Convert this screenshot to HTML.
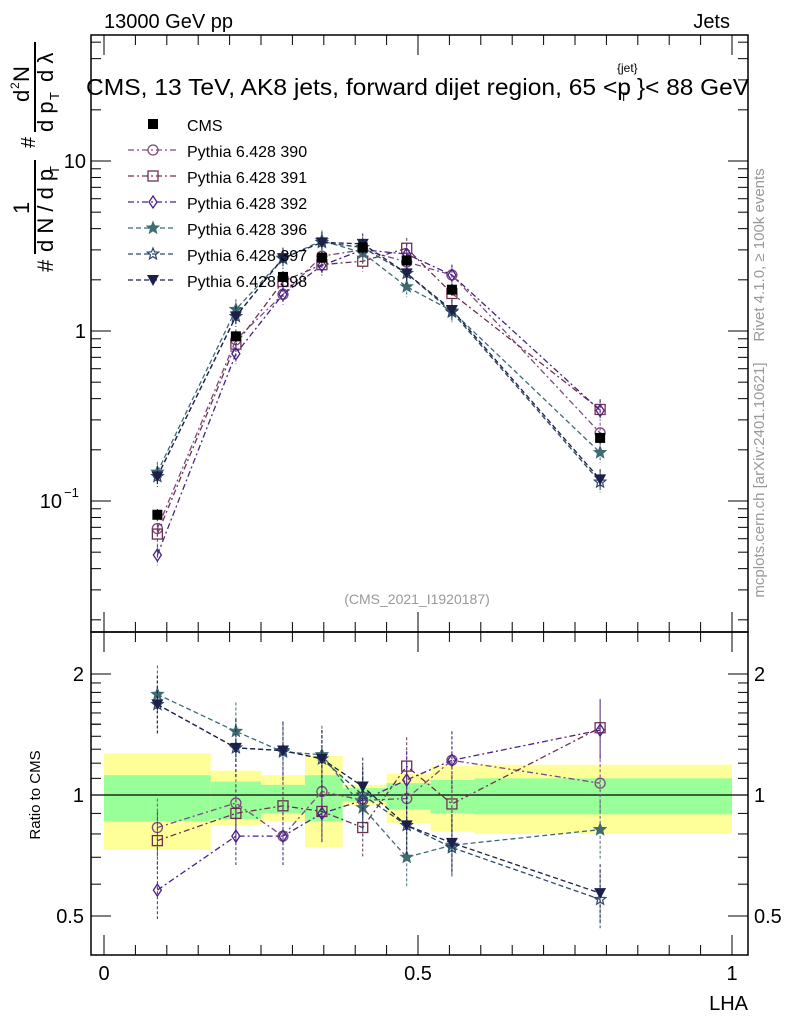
<!DOCTYPE html>
<html><head><meta charset="utf-8"><style>
body{margin:0;background:#fff;}
svg{display:block;font-family:"Liberation Sans",sans-serif;}
</style></head><body>
<svg id="c" width="786" height="1024" viewBox="0 0 786 1024" xmlns="http://www.w3.org/2000/svg"></svg>
<script>
const xs=[0.085,0.21,0.285,0.347,0.412,0.482,0.554,0.79];
const cms=[0.083,0.93,2.08,2.7,3.1,2.6,1.75,0.235];
const r390=[0.83,0.955,0.79,1.02,0.97,0.98,1.22,1.07];
const r391=[0.77,0.90,0.94,0.91,0.83,1.18,0.95,1.47];
const r392=[0.58,0.79,0.79,0.90,0.97,1.09,1.22,1.45];
const r396=[1.78,1.44,1.28,1.26,0.93,0.70,0.75,0.82];
const r397=[1.68,1.31,1.29,1.23,1.0,0.84,0.74,0.55];
const r398=[1.68,1.31,1.29,1.23,1.05,0.84,0.76,0.57];
const binEdges=[0,0.17,0.25,0.32,0.38,0.45,0.52,0.59,1.0];
const yelUp=[1.27,1.15,1.12,1.25,1.06,1.13,1.18,1.19];
const yelLo=[0.73,0.84,0.86,0.74,0.94,0.85,0.81,0.80];
const grnUp=[1.12,1.08,1.06,1.12,1.04,1.07,1.09,1.10];
const grnLo=[0.86,0.87,0.90,0.86,0.965,0.92,0.90,0.895];
const NS="http://www.w3.org/2000/svg",S=document.getElementById('c');
const X=v=>104+628*v, Y=v=>331-170*Math.log10(v), R=v=>795-121*Math.log2(v);
function el(t,a,p){const e=document.createElementNS(NS,t);for(const k in a)e.setAttribute(k,a[k]);(p||S).appendChild(e);return e;}
function tx(x,y,s,sz,a,p){const e=el('text',Object.assign({x:x,y:y,'font-size':sz},a||{}),p);e.textContent=s;return e;}
for(let i=0;i<8;i++){
 const b=el('rect',{x:X(binEdges[i]),y:R(yelUp[i]),width:X(binEdges[i+1])-X(binEdges[i]),height:R(yelLo[i])-R(yelUp[i]),fill:'#ffff99'});
 
 const g=el('rect',{x:X(binEdges[i]),y:R(grnUp[i]),width:X(binEdges[i+1])-X(binEdges[i]),height:R(grnLo[i])-R(grnUp[i]),fill:'#99ff99'});
 
}
el('line',{x1:91,x2:748,y1:795,y2:795,stroke:'#000','stroke-width':1.2});
const f1=el('rect',{x:91,y:35,width:657,height:597,fill:'none',stroke:'#000','stroke-width':1.5});

const f2=el('rect',{x:91,y:632,width:657,height:323,fill:'none',stroke:'#000','stroke-width':1.5});

for(let k=0;k<=20;k++){const v=k/20;const big=k%10==0;const L=big?20:10;
 [[35,1],[632,-1],[632,1],[955,-1]].forEach(([y,d])=>el('line',{x1:X(v),x2:X(v),y1:y,y2:y+d*L,stroke:'#000'}));}
[['0',0],['0.5',0.5],['1',1]].forEach(([s,v])=>{const t=tx(X(v),980,s,20,{'text-anchor':'middle'});});
for(let d=-2;d<=1;d++)for(let m=1;m<10;m++){const v=m*Math.pow(10,d);const y=Y(v);if(y<35||y>632)continue;const L=m==1?20:10;
 el('line',{x1:91,x2:91+L,y1:y,y2:y,stroke:'#000'});el('line',{x1:748,x2:748-L,y1:y,y2:y,stroke:'#000'});}
tx(86,168,'10',20,{'text-anchor':'end'});tx(86,338,'1',20,{'text-anchor':'end'});
tx(62,508,'10',20,{'text-anchor':'end'});tx(64,497,'−1',13,{});
[0.5,0.6,0.7,0.8,0.9,1,1.5,2].forEach(v=>{const y=R(v);const L=(v==0.5||v==1||v==2)?20:10;
 el('line',{x1:91,x2:91+L,y1:y,y2:y,stroke:'#000'});el('line',{x1:748,x2:748-L,y1:y,y2:y,stroke:'#000'});});
for(let k=1;k<10;k++){const y=R(1+k/10);el('line',{x1:91,x2:101,y1:y,y2:y,stroke:'#000'});el('line',{x1:748,x2:738,y1:y,y2:y,stroke:'#000'});}
[['2',2],['1',1],['0.5',0.5]].forEach(([s,v])=>{tx(84,R(v)+7,s,20,{'text-anchor':'end'});tx(754,R(v)+7,s,20,{});});
tx(104,28,'13000 GeV pp',20,{});
tx(730,28,'Jets',20,{'text-anchor':'end'});
tx(86,95,'CMS, 13 TeV, AK8 jets, forward dijet region, 65 <p',23,{textLength:545,lengthAdjust:'spacingAndGlyphs'});
tx(620,101,'T',12,{});tx(617,72,'{jet}',12,{});
tx(637,95,'}< 88 GeV',23,{textLength:112,lengthAdjust:'spacingAndGlyphs'});
tx(417,604,'(CMS_2021_I1920187)',14,{'text-anchor':'middle',fill:'#999'});
tx(748,1010,'LHA',20,{'text-anchor':'end',});
tx(0,0,'Ratio to CMS',15,{transform:'translate(40,795) rotate(-90)','text-anchor':'middle',});
tx(0,0,'Rivet 4.1.0, ≥ 100k events',15,{transform:'translate(764,255) rotate(-90)','text-anchor':'middle',fill:'#999'});
tx(0,0,'mcplots.cern.ch [arXiv:2401.10621]',15,{transform:'translate(764,480) rotate(-90)','text-anchor':'middle',fill:'#999'});
const yl=el('g',{transform:'translate(53,272) rotate(-90)',});
tx(0,0,'#',22,{},yl);
tx(20,0,'d N / d p',22,{},yl);tx(98,6,'T',13,{},yl);
el('line',{x1:18,x2:112,y1:-18,y2:-18,stroke:'#000','stroke-width':2},yl);
tx(58,-24,'1',22,{},yl);
tx(124,-18,'#',20,{},yl);
tx(140,0,'d p',22,{},yl);tx(172,6,'T',13,{},yl);tx(190,0,'d λ',22,{},yl);
el('line',{x1:140,x2:230,y1:-18,y2:-18,stroke:'#000','stroke-width':2},yl);
tx(170,-24,'d',22,{},yl);tx(183,-34,'2',12,{},yl);tx(190,-24,'N',22,{},yl);
const series=[
 {n:'390',r:r390,c:'#7b4a80',m:'circle',d:'6 3 2 3'},
 {n:'391',r:r391,c:'#6e3050',m:'square',d:'6 3 2 3'},
 {n:'392',r:r392,c:'#4a2185',m:'diamond',d:'6 3 2 3'},
 {n:'396',r:r396,c:'#3f6b73',m:'star',d:'5 3'},
 {n:'397',r:r397,c:'#2c4a68',m:'ostar',d:'5 3'},
 {n:'398',r:r398,c:'#1c1f4a',m:'tri',d:'5 3'}];
function marker(t,x,y,c,p){
 if(t=='circle')return el('circle',{cx:x,cy:y,r:5,fill:'none',stroke:c,'stroke-width':1.3},p);
 if(t=='square')return el('rect',{x:x-5,y:y-5,width:10,height:10,fill:'none',stroke:c,'stroke-width':1.3},p);
 if(t=='diamond')return el('polygon',{points:`${x},${y-6} ${x+4},${y} ${x},${y+6} ${x-4},${y}`,fill:'none',stroke:c,'stroke-width':1.3},p);
 if(t=='tri')return el('polygon',{points:`${x-6},${y-5} ${x+6},${y-5} ${x},${y+6}`,fill:c},p);
 if(t=='cms')return el('rect',{x:x-5,y:y-5,width:10,height:10,fill:'#000'},p);
 let pts=[];for(let i=0;i<10;i++){const a=-Math.PI/2+i*Math.PI/5,rr=i%2?2.6:6;pts.push((x+rr*Math.cos(a)).toFixed(1)+','+(y+rr*Math.sin(a)).toFixed(1));}
 return el('polygon',{points:pts.join(' '),fill:t=='star'?c:'none',stroke:c,'stroke-width':1.2},p);}
series.forEach(s=>{
 const g=el('g',{});
 const mv=cms.map((v,i)=>v*s.r[i]);
 el('polyline',{points:xs.map((x,i)=>X(x)+','+Y(mv[i])).join(' '),fill:'none',stroke:s.c,'stroke-dasharray':s.d,'stroke-width':1.3},g);
 el('polyline',{points:xs.map((x,i)=>X(x)+','+R(s.r[i])).join(' '),fill:'none',stroke:s.c,'stroke-dasharray':s.d,'stroke-width':1.3},g);
 xs.forEach((x,i)=>{
  el('line',{x1:X(x),x2:X(x),y1:Y(mv[i]*1.15),y2:Y(mv[i]/1.15),stroke:s.c,'stroke-dasharray':'3 2'},g);
  el('line',{x1:X(x),x2:X(x),y1:R(s.r[i]*1.18),y2:R(s.r[i]/1.18),stroke:s.c,'stroke-dasharray':'3 2'},g);
  const a=marker(s.m,X(x),Y(mv[i]),s.c,g);
  const b=marker(s.m,X(x),R(s.r[i]),s.c,g);
 });
});
const cg=el('g',{});
xs.forEach((x,i)=>{el('line',{x1:X(x),x2:X(x),y1:Y(cms[i]*1.08),y2:Y(cms[i]/1.08),stroke:'#000'},cg);
 const m=marker('cms',X(x),Y(cms[i]),'#000',cg);});
const lg=el('g',{});
marker('cms',153,124,'#000',lg);tx(187,131,'CMS',16,{},lg);
series.forEach((s,i)=>{const y=150+26*i;
 el('line',{x1:128,x2:176,y1:y,y2:y,stroke:s.c,'stroke-dasharray':s.d,'stroke-width':1.3},lg);
 marker(s.m,153,y,s.c,lg);
 const t=tx(187,y+7,'Pythia 6.428 '+s.n,16,{},lg);});
</script>
</body></html>
